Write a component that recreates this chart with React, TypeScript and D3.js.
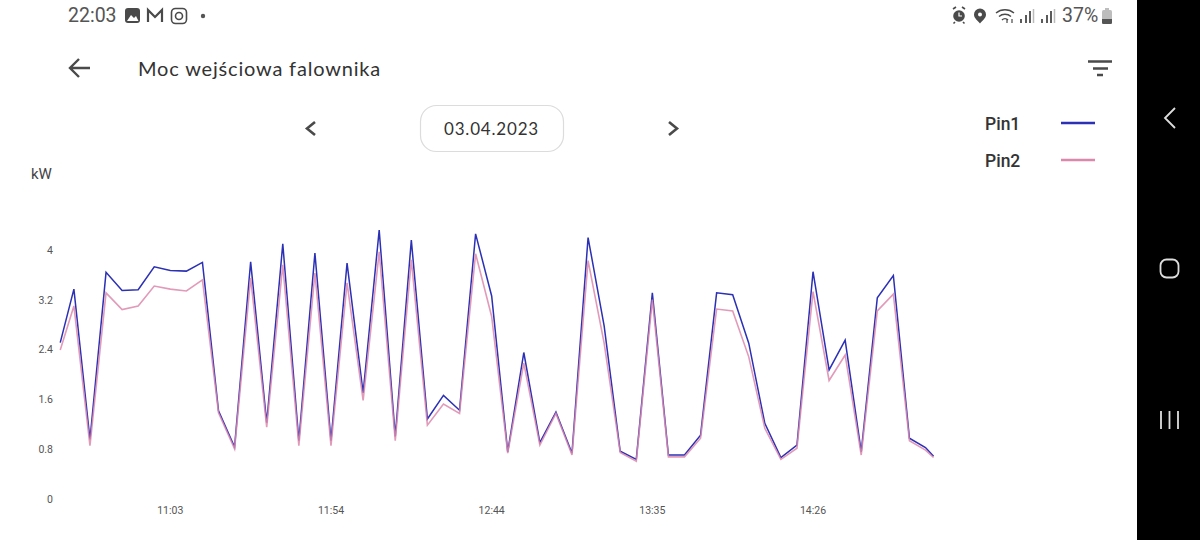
import React from "react";
import * as d3 from "d3";

const sampleSlots = [0.15,1,2,3,4,5,6,7,8,9,10,11,12,13,14,15,16,17,18,19,20,21,22,23,24,25,26,27,28,29,30,31,32,33,34,35,36,37,38,39,40,41,42,43,44,45,46,47,48,49,50,51,52,53,54,54.5];
const pin1 = [2.51,3.37,0.95,3.64,3.35,3.36,3.73,3.67,3.66,3.80,1.41,0.83,3.81,1.22,4.10,0.93,3.95,0.93,3.79,1.70,4.32,1.0,4.16,1.28,1.66,1.42,4.26,3.26,0.75,2.35,0.90,1.39,0.73,4.20,2.78,0.76,0.63,3.31,0.70,0.70,1.02,3.31,3.28,2.50,1.21,0.66,0.86,3.65,2.07,2.55,0.75,3.23,3.59,0.97,0.82,0.68];
const pin2 = [2.39,3.10,0.85,3.31,3.04,3.10,3.42,3.37,3.34,3.52,1.38,0.80,3.55,1.15,3.76,0.85,3.63,0.85,3.47,1.58,3.97,0.93,3.84,1.18,1.52,1.37,3.94,2.93,0.73,2.18,0.86,1.37,0.70,3.83,2.50,0.74,0.60,3.20,0.67,0.67,0.97,3.05,3.02,2.28,1.13,0.63,0.81,3.33,1.90,2.31,0.70,3.02,3.29,0.93,0.78,0.66];
const yTicks = [0,0.8,1.6,2.4,3.2,4];
const yTickLabels = ["0","0.8","1.6","2.4","3.2","4"];
const xTickSlots = [7,17,27,37,47];
const xTickLabels = ["11:03","11:54","12:44","13:35","14:26"];
const seriesNames = ["Pin1","Pin2"];
const seriesColors = ["#2b30b5","#dc88ab"];

const x = d3.scaleLinear().domain([1,54]).range([73.9,925.5]);
const y = d3.scaleLinear().domain([0,4]).range([498.5,250]);
const line = (vals:number[]) => d3.line<number>().x((_,i)=>x(sampleSlots[i])).y(d=>y(d))(vals) as string;
const UI = "Lato, 'Noto Sans', sans-serif";
const ICON = "#4a4a4a";

export default function App(){
  return (
    <svg width={1200} height={540} style={{position:"absolute",left:0,top:0,background:"#fff"}} fontFamily={UI}>
      <rect x={1137} y={0} width={63} height={540} fill="#000"/>
      {/* nav bar */}
      <path d="M1175 108 L1165 118 L1175 128" fill="none" stroke="#ddd" strokeWidth={1.8}/>
      <rect x={1160.5} y={259.5} width={18} height={18} rx={6} fill="none" stroke="#ddd" strokeWidth={1.8}/>
      <path d="M1161 411V429M1169.5 411V429M1178 411V429" stroke="#ddd" strokeWidth={1.8}/>
      {/* status bar left */}
      <text x={68} y={22} fontSize={19.5} fill="#555" fontFamily="Roboto, sans-serif">22:03</text>
      <rect x={125} y={8} width={15} height={15} rx={3} fill="#4a4a4a"/>
      <path d="M127 21 L131 15 L134 18 L136 16 L138.5 21Z" fill="#fff"/>
      <path d="M148 22V10L155 17L162 10V22" fill="none" stroke={ICON} strokeWidth={2.2}/>
      <rect x={171.5} y={8.5} width={15} height={15} rx={4} fill="none" stroke={ICON} strokeWidth={1.6}/>
      <circle cx={179} cy={16} r={3.5} fill="none" stroke={ICON} strokeWidth={1.6}/>
      <circle cx={203} cy={16} r={2.2} fill="#555"/>
      {/* status bar right */}
      <circle cx={959} cy={16} r={5.8} fill={ICON}/>
      <path d="M953 9L956 7M965 9L962 7M955 22L953.5 23.5M963 22L964.5 23.5" stroke={ICON} strokeWidth={1.6}/>
      <path d="M959 12.5V16H962" stroke="#fff" strokeWidth={1.2} fill="none"/>
      <path d="M980 8.5a6 6 0 0 1 6 6c0 4-4 6-6 9c-2-3-6-5-6-9a6 6 0 0 1 6-6Z" fill={ICON}/>
      <circle cx={980} cy={14.5} r={2} fill="#fff"/>
      <path d="M996 13a14 14 0 0 1 18 0M999 16.5a9 9 0 0 1 12 0M1002 20a4 4 0 0 1 6 0" fill="none" stroke={ICON} strokeWidth={1.4}/>
      <path d="M1007 23V19M1012 23V19" stroke={ICON} strokeWidth={1.2}/>
      <path d="M1021 23V19M1026 23V15M1030 23V11" stroke={ICON} strokeWidth={1.8}/>
      <path d="M1033.5 23V9" stroke="#bbb" strokeWidth={1.5}/>
      <path d="M1042 23V19M1047 23V15M1051 23V11" stroke={ICON} strokeWidth={1.8}/>
      <path d="M1054.5 23V9" stroke="#bbb" strokeWidth={1.5}/>
      <text x={1062} y={22} fontSize={19.5} fill="#555" fontFamily="Roboto, sans-serif">37%</text>
      <rect x={1102} y={10} width={10} height={14} rx={1.5} fill="#bdbdbd"/>
      <rect x={1105} y={8} width={4} height={2} fill="#bdbdbd"/>
      <path d="M1102 19H1112V22.5a1.5 1.5 0 0 1-1.5 1.5H1103.5a1.5 1.5 0 0 1-1.5-1.5Z" fill="#555"/>
      {/* app bar */}
      <path d="M90 68H70M79 59L70 68L79 77" fill="none" stroke={ICON} strokeWidth={2.4}/>
      <text x={138} y={76} fontSize={20} fill="#333" letterSpacing={0.82}>Moc wejściowa falownika</text>
      <path d="M1088 61.5H1112M1093 68.5H1108M1097 75H1103" stroke={ICON} strokeWidth={2.4}/>
      {/* date selector */}
      <path d="M315 122L307 128.500L315 135" fill="none" stroke={ICON} strokeWidth={2.6}/>
      <rect x={420.500} y={105.500} width={143} height={46} rx={16} fill="#fff" stroke="#dcdcdc" strokeWidth={1.2}/>
      <text x={491.5} y={135} fontSize={17} fill="#333" textAnchor="middle" letterSpacing={0.8}>03.04.2023</text>
      <path d="M669 122L677 128.500L669 135" fill="none" stroke={ICON} strokeWidth={2.6}/>
      {/* legend */}
      {seriesNames.map((n,i)=>(
        <g key={n}>
          <text x={985} y={130+i*37} fontSize={17.5} fontWeight={500} fill="#333" fontFamily="Roboto, sans-serif">{n}</text>
          <line x1={1061} x2={1095} y1={123+i*37} y2={123+i*37} stroke={seriesColors[i]} strokeWidth={2.4}/>
        </g>
      ))}
      {/* axes */}
      <text x={31} y={179} fontSize={15} fill="#444" fontFamily="Roboto, sans-serif">kW</text>
      {yTicks.map((t,i)=>(
        <text key={t} x={53} y={y(t)+4} fontSize={10.5} fill="#555" textAnchor="end" fontFamily="Roboto, sans-serif">{yTickLabels[i]}</text>
      ))}
      {xTickSlots.map((s,i)=>(
        <text key={s} x={x(s)} y={514} fontSize={10.5} fill="#555" textAnchor="middle" fontFamily="Roboto, sans-serif">{xTickLabels[i]}</text>
      ))}
      {/* series */}
      <path d={line(pin1)} fill="none" stroke={seriesColors[0]} strokeWidth={1.5}/>
      <path d={line(pin2)} fill="none" stroke={seriesColors[1]} strokeWidth={1.6} strokeOpacity={0.85}/>
    </svg>
  );
}
